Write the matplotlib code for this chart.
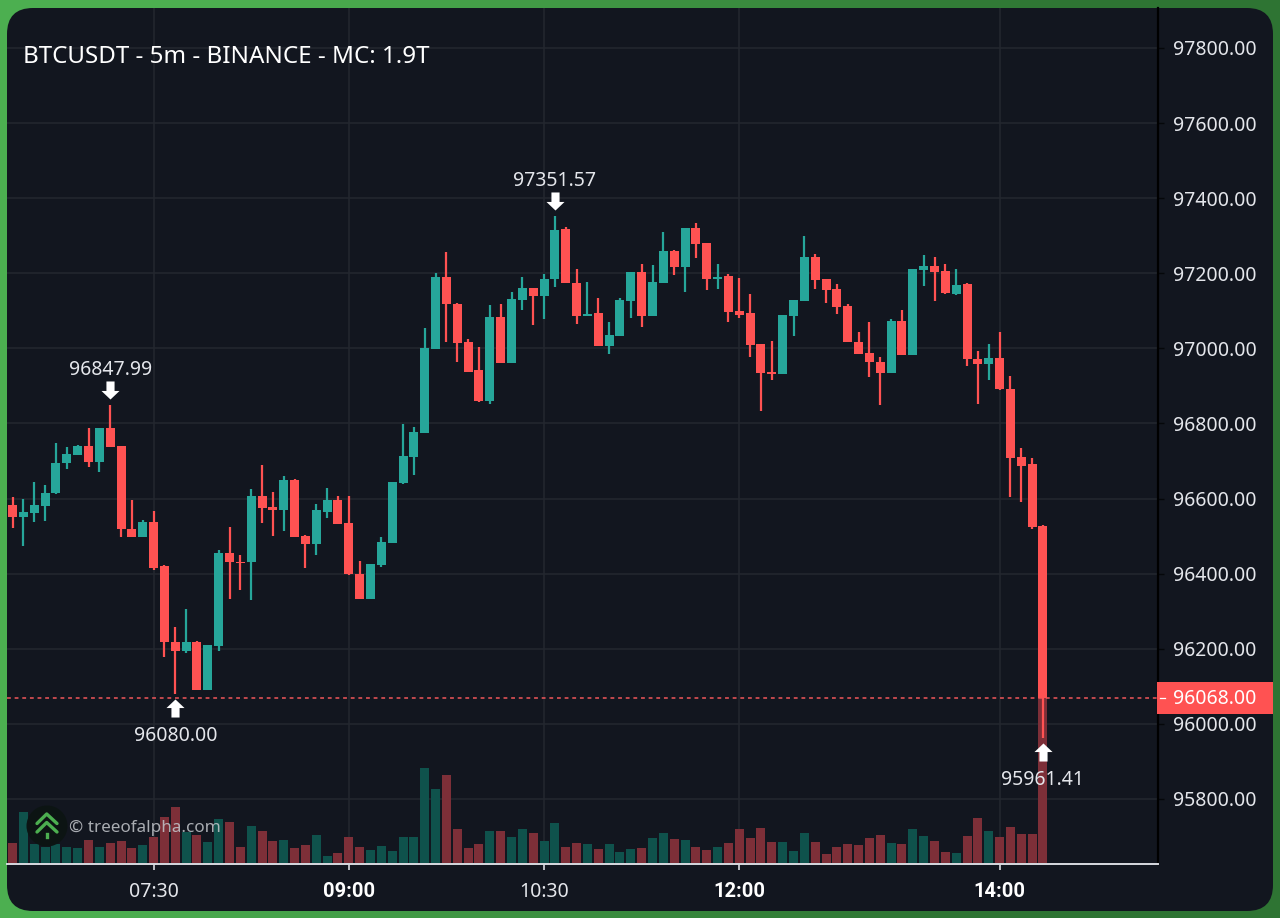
import numpy as np
import matplotlib
matplotlib.use("Agg")
import matplotlib.pyplot as plt
from matplotlib.patches import FancyBboxPatch, Circle, Rectangle
from matplotlib.path import Path
from matplotlib.transforms import offset_copy

plt.rcParams["font.family"] = ["Noto Sans", "DejaVu Sans"]

opens = [96582,96552,96561,96581,96614,96694,96717,96740,96698,96787,
         96740,96520,96499,96537,96420,96219,96195,96218,96090,96208,
         96455,96431,96430,96607,96578,96569,96650,96501,96479,96565,
         96595,96535,96400,96333,96423,96482,96641,96711,96776,96999,
         97190,97119,97017,96942,96859,97083,96962,97129,97160,97140,
         97185,97317,97174,97085,97093,97007,97033,97127,97203,97086,
         97175,97260,97216,97320,97281,97185,97192,97099,97094,97011,
         96937,96932,97087,97127,97244,97184,97158,97112,97018,96987,
         96965,96935,97073,96983,97209,97220,97206,97146,97171,96973,
         96959,96975,96893,96710,96692,96528]
highs = [96605,96599,96643,96636,96749,96737,96742,96787,96788,96847.99,
         96741,96597,96543,96568,96422,96258,96305,96220,96210,96463,
         96525,96451,96626,96689,96617,96661,96651,96502,96585,96628,
         96607,96607,96434,96427,96499,96644,96799,96792,97054,97200,
         97256,97120,97026,97004,97115,97118,97150,97191,97161,97198,
         97351.57,97322,97211,97177,97134,97070,97133,97204,97224,97222,
         97309,97261,97321,97333,97282,97224,97198,97188,97146,97012,
         97021,97089,97130,97300,97252,97185,97172,97118,97045,97069,
         96977,97078,97103,97212,97249,97244,97224,97212,97175,96994,
         97011,97045,96926,96734,96708,96529]
lows = [96521,96475,96537,96540,96612,96678,96715,96685,96672,96737,
        96499,96499,96499,96410,96179,96080.00,96190,96090,96089,96195,
        96333,96357,96330,96536,96501,96513,96499,96415,96451,96548,
        96532,96397,96332,96333,96419,96481,96640,96662,96775,96998,
        97018,96965,96937,96858,96851,96961,96961,97103,97062,97079,
        97163,97173,97066,97085,97006,96985,97032,97080,97058,97085,
        97174,97196,97149,97242,97156,97158,97071,97080,96978,96834,
        96916,96931,97033,97126,97158,97120,97091,97016,96984,96923,
        96849,96934,96982,96982,97166,97126,97146,97141,96952,96852,
        96915,96890,96605,96590,96520,95961.41]
closes = [96552,96564,96582,96616,96696,96719,96740,96698,96787,96737,
          96518,96499,96537,96416,96218,96195,96218,96090,96210,96456,
          96430,96428,96607,96575,96569,96650,96499,96479,96569,96595,
          96533,96398,96333,96426,96485,96643,96713,96778,97001,97190,
          97117,97014,96938,96859,97083,96962,97131,97160,97139,97186,
          97316,97174,97087,97092,97007,97035,97129,97203,97086,97177,
          97260,97216,97320,97278,97184,97190,97098,97090,97009,96934,
          96932,97088,97129,97244,97182,97156,97110,97017,96985,96963,
          96935,97074,96983,97211,97220,97204,97147,97170,96971,96959,
          96975,96891,96708,96688,96525,96068]
volumes = [20,51,19,16,19,16,15,23,16,20,
           22,15,18,26,46,56,31,28,21,44,
           41,16,37,32,22,23,15,18,28,7,
           10,26,16,13,17,12,26,26,95,74,
           88,34,15,19,32,32,26,34,30,22,
           40,16,20,19,14,19,11,14,15,25,
           30,24,23,16,13,16,20,34,25,35,
           21,21,12,30,21,9,16,19,18,25,
           28,20,19,34,27,22,11,10,27,45,
           32,26,36,29,29,170]

price_ticks = [95800,96000,96200,96400,96600,96800,97000,97200,97400,97600,97800]
time_idx = [13,31,49,67,91]
time_labels = ["07:30","09:00","10:30","12:00","14:00"]
time_bold = [False,True,False,True,True]
last_price = 96068.00
marks_high = [(9,"96847.99"),(50,"97351.57")]
marks_low = [(15,"96080.00"),(95,"95961.41")]

W, H = 1280, 918
PANEL = "#12161f"
RED = "#ff5252"
GREEN = "#26a69a"
VRED = "#7d2f38"
VGREEN = "#0f524c"
GRID = "#23272f"
TXT = "#e4e6eb"

fig = plt.figure(figsize=(W/100, H/100), dpi=100)

# green frame, bright on the left and darker on the right
bg = fig.add_axes([0,0,1,1])
bg.set_xlim(0,W); bg.set_ylim(H,0); bg.axis("off")
gx, gy = np.meshgrid(np.linspace(0,1,64), np.linspace(0,1,64))
g = np.clip((gx-0.2+0.12*gy)/0.65,0,1)[...,None]
c0 = np.array([0x4c,0xaf,0x50])/255
c1 = np.array([0x2e,0x74,0x33])/255
bg.imshow(c0 + (c1-c0)*g, extent=(0,W,H,0), aspect="auto", zorder=0)
bg.add_patch(FancyBboxPatch((7+26,8+26), 1266-52, 903-52,
             boxstyle="round,pad=26,rounding_size=26", fc=PANEL, ec="none", zorder=1))

# price axes
top_p = 97800 + 40/0.3755
bot_p = 95800 - 65/0.3755
px_p = 1/0.3755
ax = fig.add_axes([7/W, 1-864/H, (1158-7)/W, (864-8)/H])
ax.patch.set_visible(False)
ax.set_ylim(bot_p, top_p)
ax.set_xlim((7-12.6)/10.846, (1158-12.6)/10.846)

idx = np.arange(len(opens))
o, h, l, c = map(np.array, (opens, highs, lows, closes))
up = c >= o
colors = np.where(up, GREEN, RED)
vcolors = np.where(up, VGREEN, VRED)
bw = 9/10.846

ax.grid(True, color=GRID, lw=1.1)
ax.set_axisbelow(True)
ax.bar(idx, np.array(volumes)*px_p, bottom=bot_p+0.7*px_p, width=bw, color=vcolors, zorder=1.5)
ax.vlines(idx, l, h, colors=colors, lw=1.6, zorder=3)
ax.bar(idx, np.abs(c-o), bottom=np.minimum(o,c), width=bw, color=colors, zorder=3.2)
ax.axhline(last_price, color="#f0565a", lw=1.1, dashes=(2.5,2.5), zorder=2.5)

ax.set_yticks(price_ticks)
ax.set_yticklabels(["%.2f" % p for p in price_ticks])
ax.yaxis.tick_right()
ax.tick_params(axis="y", length=4, width=1, color="#05070a", labelcolor=TXT, labelsize=14, pad=7)
ax.set_xticks(time_idx)
ax.set_xticklabels(time_labels)
ax.tick_params(axis="x", length=4, width=1.2, color="#d8dae0", labelcolor=TXT, labelsize=14, pad=9)
for lab, b in zip(ax.get_xticklabels(), time_bold):
    if b:
        lab.set_family("Roboto")
        lab.set_fontweight("bold")
        lab.set_color("white")
        lab.set_fontsize(14.5)
for s in ("top","left"):
    ax.spines[s].set_visible(False)
ax.spines["right"].set_color("#000000"); ax.spines["right"].set_linewidth(1.6)
ax.spines["bottom"].set_color("#d8dae0"); ax.spines["bottom"].set_linewidth(1.4)

# arrow markers
arrow_up = Path([(0,1),(1,0.05),(0.45,0.05),(0.45,-1),(-0.45,-1),(-0.45,0.05),(-1,0.05),(0,1)], closed=True)
arrow_dn = Path([(0,-1),(1,-0.05),(0.45,-0.05),(0.45,1),(-0.45,1),(-0.45,-0.05),(-1,-0.05),(0,-1)], closed=True)
for i, txt in marks_high:
    t = offset_copy(ax.transData, fig=fig, y=0.72*15, units="points")
    ax.plot([i],[h[i]], marker=arrow_dn, ms=13, color="white", mew=0, transform=t, zorder=5)
    ax.annotate(txt, (i,h[i]), xytext=(0,0.72*35), textcoords="offset points",
                ha="center", va="center", color=TXT, fontsize=14, zorder=6)
for i, txt in marks_low:
    t = offset_copy(ax.transData, fig=fig, y=-0.72*14, units="points")
    ax.plot([i],[l[i]], marker=arrow_up, ms=13, color="white", mew=0, transform=t, zorder=5)
    ax.annotate(txt, (i,l[i]), xytext=(0,-0.72*42), textcoords="offset points",
                ha="center", va="center", color=TXT, fontsize=14, zorder=6)

# overlay: title, logo, last price tag
ov = fig.add_axes([0,0,1,1])
ov.set_xlim(0,W); ov.set_ylim(H,0); ov.axis("off"); ov.patch.set_visible(False)
ov.text(23, 57, "BTCUSDT - 5m - BINANCE - MC: 1.9T", color="white", fontsize=17.4, va="center", ha="left")
ov.add_patch(Circle((47,826), 20.5, fc="#0c1413", ec="none"))
ov.plot([37,46.7,57],[823.5,814,823.5], color="#4caf50", lw=2.4, solid_capstyle="round")
ov.plot([37,46.7,57],[832,822.5,832], color="#4caf50", lw=2.4, solid_capstyle="round")
ov.plot([47,47],[834,837], color="#4caf50", lw=2.4)
ov.text(69, 828, "© treeofalpha.com", color="#c4c7cc", alpha=0.85, fontsize=12.3, va="center", ha="left")
ov.add_patch(Rectangle((1157,682), 116, 32, fc=RED, ec="none"))
ov.plot([1160,1165],[698,698], color="white", lw=0.9)
ov.text(1173, 699.5, "%.2f" % last_price, color="white", fontsize=14, va="center", ha="left")

fig.savefig("out.png", dpi=100)
